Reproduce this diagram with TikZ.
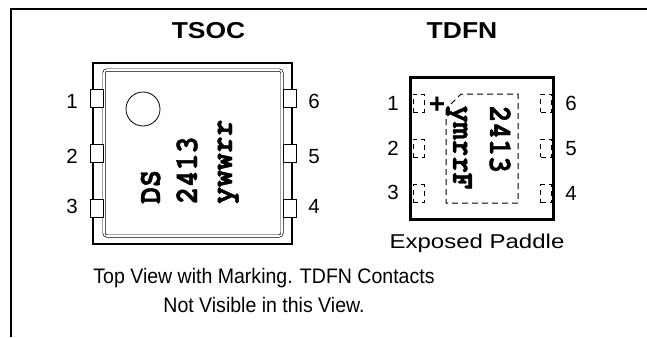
\documentclass[tikz,border=0pt]{standalone}
\usepackage{fontspec}
\setmainfont{Liberation Sans}
\newfontfamily\cursor{texgyrecursor}[Extension=.otf, UprightFont=*-regular, BoldFont=*-bold, BoldFeatures={FakeBold=1.5}]
\usepackage{tikz}
\newcommand{\tall}[1]{\scalebox{1}[1.15]{#1}}
\tikzstyle{title} = [anchor=base, inner sep=0pt, font=\fontsize{23}{23}\selectfont\bfseries]
\tikzstyle{num} = [anchor=base, inner sep=0pt, font=\fontsize{20.5}{20.5}\selectfont]
\tikzstyle{lead} = [draw, fill=white, line width=1pt, minimum width=13pt, minimum height=18pt, inner sep=0pt]
\tikzstyle{tdfnpad} = [draw, dash pattern=on 5pt off 4pt, line width=1pt, minimum width=11pt, minimum height=18pt, inner sep=0pt]
\tikzstyle{code} = [anchor=base west, inner sep=0pt, font=\fontsize{28}{28}\selectfont\cursor\bfseries]

\begin{document}
\begin{tikzpicture}[x=1pt, y=-1pt]
	\useasboundingbox (0,0) rectangle (647,337);
	\draw[line width=2pt] (647,9) -- (11,9) -- (11,337);
	\node[title] (tsoc) at (208.5,38) {\scalebox{1.15}[1]{TSOC}};
	\node[title] (tdfn) at (462,38) {\scalebox{1.15}[1]{TDFN}};

	\draw[line width=1.5pt] (93,63) rectangle (292,244);
	\draw[line width=0.7pt, double, double distance=1.6pt, rounded corners=3pt] (104,70) rectangle (282,236);
	\node[lead] (l1) at (96.5,98) {};
	\node[lead] (l2) at (96.5,153.5) {};
	\node[lead] (l3) at (96.5,208.5) {};
	\node[lead] (l6) at (289.5,98) {};
	\node[lead] (l5) at (289.5,153.5) {};
	\node[lead] (l4) at (289.5,208.5) {};
	\node[num] (n1) at (72,108) {1};
	\node[num] (n2) at (72,163) {2};
	\node[num] (n3) at (72,213) {3};
	\node[num] (n6) at (314,108) {6};
	\node[num] (n5) at (314,163) {5};
	\node[num] (n4) at (314,213) {4};
	\node[draw, circle, minimum size=34pt, inner sep=0pt, line width=0.8pt] (dot) at (143,109) {};
	\node[code, rotate=90] (ds) at (160,204) {\tall{DS}};
	\node[code, rotate=90] (lot) at (197,204) {\tall{2413}};
	\node[code, rotate=90] (date) at (232,204) {\tall{ywwrr}};

	\draw[line width=3pt] (410,77) rectangle (553,219);
	\node[tdfnpad] (t1) at (418.5,103) {};
	\node[tdfnpad] (t2) at (418.5,148) {};
	\node[tdfnpad] (t3) at (418.5,193.5) {};
	\node[tdfnpad] (t6) at (546,103) {};
	\node[tdfnpad] (t5) at (546,148) {};
	\node[tdfnpad] (t4) at (546,193.5) {};
	\draw[line width=1pt, dash pattern=on 6pt off 4pt] (446,109) -- (446,203) -- (518,203) -- (518,94) -- (461,94) -- cycle;
	\node[inner sep=0pt, font=\fontsize{28}{28}\selectfont\bfseries] (plus) at (437,105) {+};
	\node[code, rotate=-90] (tlot) at (490,105.5) {\tall{2413}};
	\node[code, rotate=-90] (tdate) at (453,105.5) {\tall{ymrrF}};
	\node[num] (m1) at (393,110) {1};
	\node[num] (m2) at (393,155) {2};
	\node[num] (m3) at (393,199) {3};
	\node[num] (m6) at (571,110) {6};
	\node[num] (m5) at (571,155) {5};
	\node[num] (m4) at (571,200) {4};
	\node[num, font=\fontsize{20}{20}\selectfont] (paddle) at (477,248) {\scalebox{1.2}[1]{Exposed Paddle}};

	\node[num, font=\fontsize{21}{21}\selectfont] (note1) at (264,283) {\scalebox{0.93}[1]{Top View with Marking. TDFN Contacts}};
	\node[num, font=\fontsize{21}{21}\selectfont] (note2) at (264,312) {\scalebox{0.93}[1]{Not Visible in this View.}};
\end{tikzpicture}
\end{document}
